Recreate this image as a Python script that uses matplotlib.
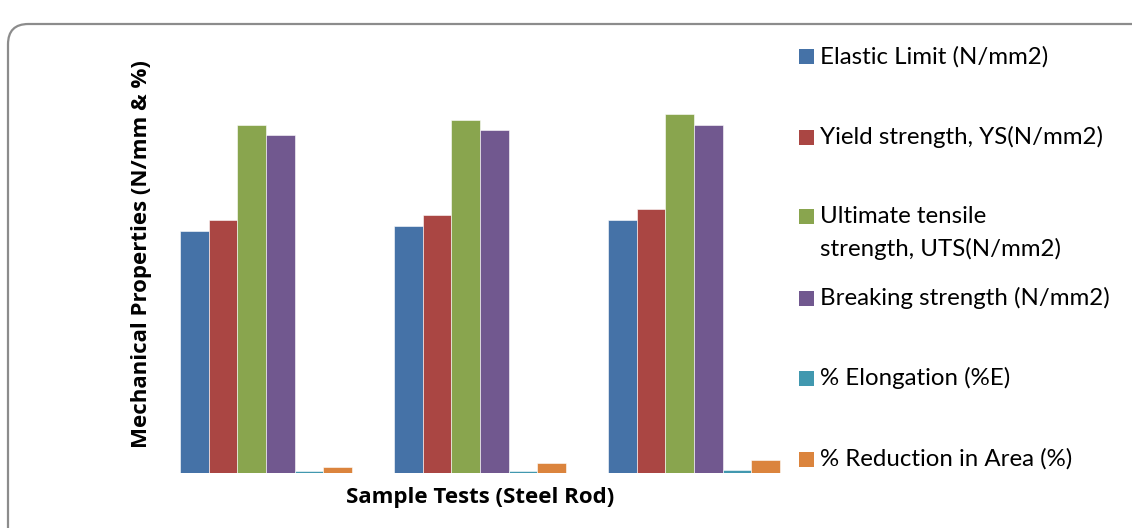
import matplotlib.pyplot as plt
import numpy as np
from matplotlib.patches import FancyBboxPatch, Rectangle

samples = ['Sample 1', 'Sample 2', 'Sample 3']
elastic_limit = [303, 309.5, 316.5]
yield_strength = [317, 323, 330]
uts = [435, 442, 449]
breaking_strength = [422.5, 429, 435]
elongation = [2.9, 2.9, 4.1]
reduction_area = [7.5, 12.5, 16.6]

series_names = ['Elastic Limit (N/mm2)', 'Yield strength, YS(N/mm2)',
                'Ultimate tensile\nstrength, UTS(N/mm2)', 'Breaking strength (N/mm2)',
                '% Elongation (%E)', '% Reduction in Area (%)']
series_values = [elastic_limit, yield_strength, uts, breaking_strength,
                 elongation, reduction_area]
colors = ['#4572A7', '#AA4643', '#89A54E', '#71588F', '#4198AF', '#DB843D']

plt.rcParams['font.family'] = ['Lato', 'DejaVu Sans']

W, H = 1132, 528
fig = plt.figure(figsize=(W / 100, H / 100), dpi=100)
fig.patch.set_facecolor('white')

# rounded chart frame, running off the right and bottom edges
frame = FancyBboxPatch((8 / W, -40 / H), (W + 40) / W, (H + 28 - 12) / H,
                       boxstyle='round,pad=0,rounding_size=0.018',
                       transform=fig.transFigure, facecolor='none',
                       edgecolor='#8c8c8c', linewidth=1.6, mutation_aspect=W / H)
fig.patches.append(frame)

ax = fig.add_axes([159 / W, (H - 473.3) / H, 642 / W, 400 / H])
x = np.arange(len(samples))
n = len(series_values)
bw = 0.8 / n
for i, (vals, c) in enumerate(zip(series_values, colors)):
    ax.bar(x - 0.4 + bw * (i + 0.5), vals, bw, color=c,
           edgecolor='#ffffff', linewidth=0.4)

ax.set_xlim(-0.5, 2.5)
ax.set_ylim(0, 500)
ax.set_xticks([])
ax.set_yticks([])
for s in ax.spines.values():
    s.set_visible(False)
ax.patch.set_alpha(0)

bold = dict(family=['Open Sans', 'DejaVu Sans'], fontweight='bold', fontsize=16)
fig.text(142 / W, 1 - 254 / H, 'Mechanical Properties (N/mm & %)', rotation=90,
         ha='center', va='center', **bold)
fig.text(480 / W, 1 - 497 / H, 'Sample Tests (Steel Rod)',
         ha='center', va='center', **bold)

# legend drawn as colour squares with labels
legend_y = [56.7, 137.3, 216.7, 298.3, 378.3, 459.3]
for name, c, yy in zip(series_names, colors, legend_y):
    fig.patches.append(Rectangle((799 / W, 1 - (yy + 7.5) / H), 15 / W, 15 / H,
                                 transform=fig.transFigure, facecolor=c,
                                 edgecolor='none'))
    fig.text(820 / W, 1 - (yy - 11) / H, name, ha='left', va='top',
             fontsize=17.3, linespacing=1.6)

fig.savefig('out.png', dpi=100)
